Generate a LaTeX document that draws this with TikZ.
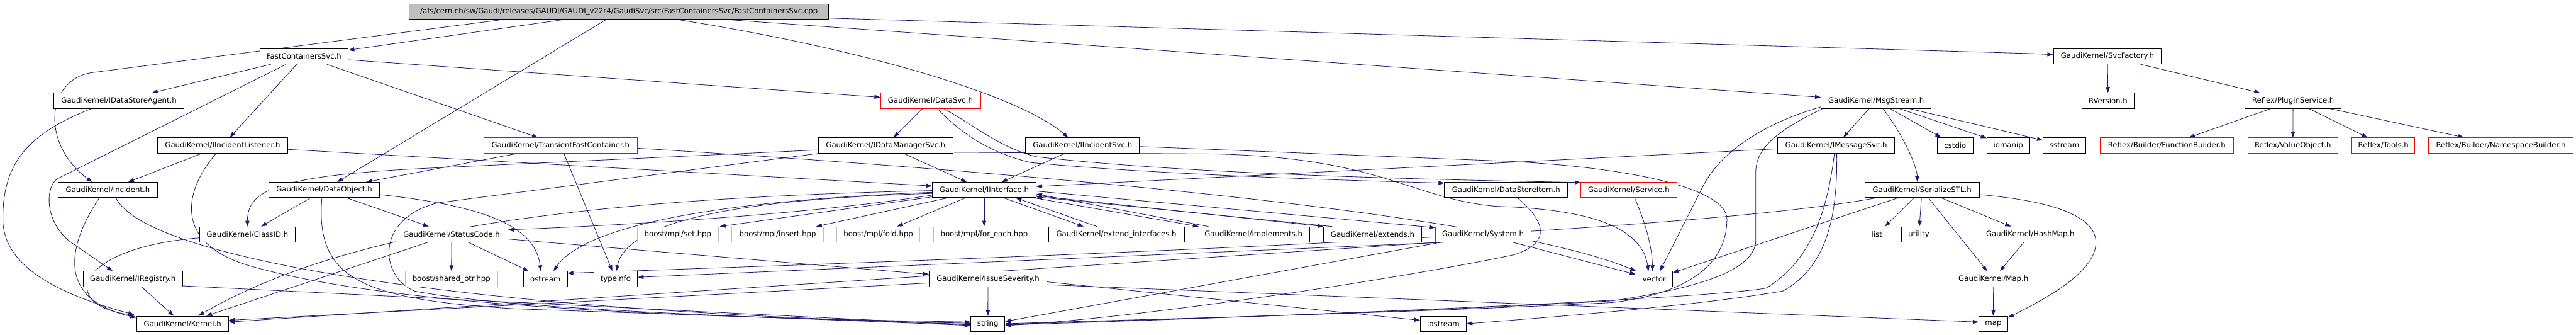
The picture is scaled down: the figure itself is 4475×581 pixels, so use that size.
\documentclass[tikz,border=0pt]{standalone}
\usepackage{fontspec}
\setmainfont{DejaVu Sans}
\usetikzlibrary{arrows.meta,calc}
\definecolor{edgec}{HTML}{191970}
\definecolor{boxgray}{HTML}{BFBFBF}
\pgfdeclarelayer{back}
\pgfdeclarelayer{bg}
\pgfsetlayers{back,bg,main}
\begin{document}
\begin{tikzpicture}[x=1pt,y=-1pt,
  nd/.style={draw=black,line width=1pt,fill=white,minimum height=26.5pt,inner sep=0pt,font=\fontsize{12.8}{15}\selectfont,text=black,anchor=center},
  rd/.style={nd,draw=red},
  gy/.style={nd,draw=boxgray},
  rt/.style={nd,fill=boxgray},
  dep/.style={draw=edgec,line width=0.9pt,-{Triangle[length=10pt,width=7pt]}}
]
\useasboundingbox (0,0) rectangle (4475,581);
\begin{pgfonlayer}{back}
\fill[white] (0,0) rectangle (4475,581);
\end{pgfonlayer}
% row 0
\node[rt,minimum width=728.5pt] (root) at (1075.3,20.4) {/afs/cern.ch/sw/Gaudi/releases/GAUDI/GAUDI\_v22r4/GaudiSvc/src/FastContainersSvc/FastContainersSvc.cpp};
% row 1
\node[nd,minimum width=153.5pt] (fcs) at (528.2,97.8) {FastContainersSvc.h};
\node[nd,minimum width=187.8pt] (svcf) at (3661,97.8) {GaudiKernel/SvcFactory.h};
% row 2
\node[nd,minimum width=226.7pt] (dsa) at (206.6,174.8) {GaudiKernel/IDataStoreAgent.h};
\node[rd,minimum width=173.6pt] (datasvc) at (1616.4,174.8) {GaudiKernel/DataSvc.h};
\node[nd,minimum width=191.3pt] (msg) at (3259.2,174.8) {GaudiKernel/MsgStream.h};
\node[nd,minimum width=90.2pt] (rver) at (3662,174.8) {RVersion.h};
\node[nd,minimum width=167.3pt] (plug) at (3983.5,174.8) {Reflex/PluginService.h};
% row 3
\node[nd,minimum width=226pt] (iil) at (386.7,252.2) {GaudiKernel/IIncidentListener.h};
\node[rd,minimum width=267.4pt] (tfc) at (973.8,252.2) {GaudiKernel/TransientFastContainer.h};
\node[nd,minimum width=234.4pt] (idm) at (1538.7,252.2) {GaudiKernel/IDataManagerSvc.h};
\node[nd,minimum width=197.5pt] (iis) at (1880.5,252.2) {GaudiKernel/IIncidentSvc.h};
\node[nd,minimum width=202.8pt] (ims) at (3189.8,252.2) {GaudiKernel/IMessageSvc.h};
\node[nd,minimum width=62.2pt] (cstdio) at (3396.5,252.2) {cstdio};
\node[nd,minimum width=74.1pt] (iomanip) at (3488.6,252.2) {iomanip};
\node[nd,minimum width=74.6pt] (sstream) at (3586.4,252.2) {sstream};
\node[rd,minimum width=231.9pt] (fb) at (3764,252.2) {Reflex/Builder/FunctionBuilder.h};
\node[rd,minimum width=156.7pt] (vo) at (3983.1,252.2) {Reflex/ValueObject.h};
\node[rd,minimum width=109.4pt] (tools) at (4140.4,252.2) {Reflex/Tools.h};
\node[rd,minimum width=251.2pt] (nsb) at (4344.4,252.2) {Reflex/Builder/NamespaceBuilder.h};
% row 4
\node[nd,minimum width=171.7pt] (inc) at (187.3,329.6) {GaudiKernel/Incident.h};
\node[nd,minimum width=191.8pt] (dobj) at (563.2,329.6) {GaudiKernel/DataObject.h};
\node[nd,minimum width=180.3pt] (iint) at (1709.7,329.6) {GaudiKernel/IInterface.h};
\node[nd,minimum width=213.8pt] (dsi) at (2616.3,329.6) {GaudiKernel/DataStoreItem.h};
\node[rd,minimum width=166.7pt] (svc) at (2829.6,329.6) {GaudiKernel/Service.h};
\node[nd,minimum width=198.5pt] (ser) at (3338.9,329.6) {GaudiKernel/SerializeSTL.h};
% row 5
\node[nd,minimum width=167pt] (clid) at (429.8,406.7) {GaudiKernel/ClassID.h};
\node[nd,minimum width=194.5pt] (sc) at (784.5,406.7) {GaudiKernel/StatusCode.h};
\node[gy,minimum width=141pt] (mset) at (1177.6,406.7) {boost/mpl/set.hpp};
\node[gy,minimum width=158.8pt] (mins) at (1351,406.7) {boost/mpl/insert.hpp};
\node[gy,minimum width=144.4pt] (mfold) at (1525.8,406.7) {boost/mpl/fold.hpp};
\node[gy,minimum width=176.5pt] (mfe) at (1709.7,406.7) {boost/mpl/for\_each.hpp};
\node[nd,minimum width=235.8pt] (ext) at (1939.3,406.7) {GaudiKernel/extend\_interfaces.h};
\node[nd,minimum width=195.8pt] (impl) at (2177.6,406.7) {GaudiKernel/implements.h};
\node[nd,minimum width=169.8pt] (extends) at (2384.4,406.7) {GaudiKernel/extends.h};
\node[rd,minimum width=166pt] (sys) at (2576.2,406.7) {GaudiKernel/System.h};
\node[nd,minimum width=41.6pt] (list) at (3260.4,406.7) {list};
\node[nd,minimum width=59.3pt] (utility) at (3333.3,406.7) {utility};
\node[rd,minimum width=178.7pt] (hmap) at (3527,406.7) {GaudiKernel/HashMap.h};
% row 6
\node[nd,minimum width=172.6pt] (ireg) at (230.8,484) {GaudiKernel/IRegistry.h};
\node[gy,minimum width=160.7pt] (bsp) at (784.2,484) {boost/shared\_ptr.hpp};
\node[nd,minimum width=76pt] (ostream) at (947.5,484) {ostream};
\node[nd,minimum width=76pt] (typeinfo) at (1069.5,484) {typeinfo};
\node[nd,minimum width=204.2pt] (iss) at (1716.4,484) {GaudiKernel/IssueSeverity.h};
\node[nd,minimum width=64.1pt] (vector) at (2873.7,484) {vector};
\node[rd,minimum width=147.3pt] (maph) at (3463,484) {GaudiKernel/Map.h};
% row 7
\node[nd,minimum width=159.8pt] (kernel) at (317.1,561.7) {GaudiKernel/Kernel.h};
\node[nd,minimum width=59.3pt] (string) at (1716.1,561.7) {string};
\node[nd,minimum width=79.9pt] (iostream) at (2507.3,561.7) {iostream};
\node[nd,minimum width=50.2pt] (map) at (3462.7,561.7) {map};

\begin{pgfonlayer}{bg}
% root
\draw[dep] (root) -- (fcs);
\draw[dep] ($(root.south)+(-203,0)$) -- (160,126) .. controls (80,137) and (70,250) .. ($(inc.north)+(-27,0)$);
\draw[dep] (root) -- (dobj);
\draw[dep] ($(root.south)+(103,0)$) .. controls (1500,85) and (1770,165) .. ($(iis.north)+(-25,0)$);
\draw[dep] ($(root.south)+(189,0)$) -- ($(msg.west)+(0,-6)$);
\draw[dep] ($(root.east)+(0,11)$) -- (3530,93) -- ($(svcf.west)+(0,-3)$);
% fcs
\draw[dep] (fcs) -- (dsa);
\draw[dep] ($(fcs.south)+(-31,0)$) -- (100,310) .. controls (80,322) and (75,380) .. (120,418) -- ($(ireg.north)+(-35,0)$);
\draw[dep] (fcs) -- (iil);
\draw[dep] (fcs) -- (tfc);
\draw[dep] ($(fcs.east)+(0,6)$) -- ($(datasvc.west)+(0,-6)$);
% dsa
\draw[dep] ($(dsa.south)+(-48,0)$) .. controls (40,235) and (5,290) .. (5,380) .. controls (5,470) and (120,515) .. ($(kernel.north west)+(-4,-2)$);
% iil
\draw[dep] (iil) -- (inc);
\draw[dep] ($(iil.south)+(-11,0)$) .. controls (320,330) and (300,420) .. (430,460) .. controls (700,540) and (1300,552) .. ($(string.west)+(0,-3)$);
\draw[dep] ($(iil.east)+(0,7)$) -- ($(iint.west)+(0,-7)$);
% inc
\draw[dep] ($(inc.south)+(-15,0)$) .. controls (115,430) and (100,520) .. ($(kernel.north west)+(0,3)$);
\draw[dep] ($(inc.south)+(14,0)$) .. controls (260,460) and (900,545) .. ($(string.west)+(0,-1)$);
% dobj
\draw[dep] (dobj) -- (clid);
\draw[dep] (dobj) -- (sc);
\draw[dep] ($(dobj.south)+(-4,0)$) .. controls (548,480) and (620,520) .. (900,536) -- ($(string.west)+(0,1)$);
\draw[dep] ($(dobj.east)+(0,8)$) .. controls (850,358) and (930,395) .. ($(ostream.north)+(-8,0)$);
% clid
\draw[dep] ($(clid.west)+(0,6)$) .. controls (130,430) and (100,530) .. ($(kernel.north west)+(-2,-1)$);
% ireg
\draw[dep] (ireg) -- (kernel);
\draw[dep] ($(ireg.east)+(0,12)$) -- ($(string.west)+(0,2)$);
% sc
\draw[dep] (sc) -- (bsp);
\draw[dep] (sc) -- (ostream);
\draw[dep] ($(sc.east)+(0,8)$) -- ($(iss.west)+(0,-8)$);
\draw[dep] (sc) -- (kernel);
% iss
\draw[dep] (iss) -- (string);
\draw[dep] ($(iss.west)+(0,7)$) -- ($(kernel.east)+(0,-6)$);
\draw[dep] ($(iss.east)+(0,5)$) -- ($(iostream.west)+(0,-6)$);
\draw[dep] ($(iss.east)+(0,10)$) -- ($(map.west)+(0,-3)$);
% tfc
\draw[dep] (tfc) -- (typeinfo);
\draw[dep] (tfc) -- (dobj);
\draw[dep] ($(tfc.east)+(0,5)$) .. controls (1800,300) and (2600,370) .. ($(vector.north west)+(1,0)$);
% datasvc
\draw[dep] (datasvc) -- (idm);
\draw[dep] ($(datasvc.south)+(12,0)$) .. controls (1670,232) and (1720,265) .. (1790,282) .. controls (2000,302) and (2300,312) .. ($(dsi.west)+(0,-12)$);
\draw[dep] ($(datasvc.south)+(23,0)$) .. controls (1700,222) and (1735,255) .. (1800,272) .. controls (2050,300) and (2400,310) .. ($(svc.west)+(0,-13)$);
% idm
\draw[dep] (idm) -- (iint);
\draw[dep] ($(idm.west)+(0,8)$) -- (740,292) .. controls (480,305) and (430,330) .. (clid.north);
\draw[dep] ($(idm.south west)+(3,0)$) -- (760,352) .. controls (650,380) and (660,480) .. (720,505) .. controls (900,540) and (1400,552) .. ($(string.west)+(0,3)$);
\draw[dep] ($(idm.east)+(0,12)$) -- (2100,267) .. controls (2400,272) and (2450,345) .. (2600,358) .. controls (2720,362) and (2850,380) .. ($(vector.north)+(-10,0)$);
% iis
\draw[dep] (iis) -- (iint);
\draw[dep] ($(iis.east)+(0,2)$) -- (2623,280) .. controls (2850,292) and (3000,330) .. (3000,380) .. controls (3000,460) and (2930,510) .. (2800,525) .. controls (2400,545) and (1900,556) .. (string.east);
% msg
\draw[dep] (msg) -- (ims);
\draw[dep] ($(msg.south)+(12,0)$) .. controls (3310,240) and (3330,290) .. ($(ser.north)+(-8,0)$);
\draw[dep] (msg) -- (cstdio);
\draw[dep] (msg) -- (iomanip);
\draw[dep] (msg) -- (sstream);
\draw[dep] ($(msg.south west)+(0,-3)$) .. controls (3060,215) and (2990,265) .. (2960,320) -- ($(vector.north)+(10,0)$);
\draw[dep] ($(msg.south west)+(3,0)$) .. controls (3080,230) and (3050,260) .. (3050,300) -- (3050,420) .. controls (3045,470) and (2950,500) .. (2800,522) .. controls (2400,545) and (1900,557) .. ($(string.east)+(0,1)$);
% ims
\draw[dep] ($(ims.west)+(0,6)$) -- ($(iint.east)+(0,-6)$);
\draw[dep] ($(ims.south)+(-3,0)$) .. controls (3175,360) and (3150,450) .. (3068,500) .. controls (2950,520) and (2200,550) .. ($(string.east)+(0,2)$);
\draw[dep] ($(ims.south)+(1,0)$) .. controls (3192,360) and (3180,460) .. (3097,505) .. controls (2950,530) and (2700,550) .. (iostream.east);
% ser
\draw[dep] (ser) -- (list);
\draw[dep] (ser) -- (utility);
\draw[dep] (ser) -- (hmap);
\draw[dep] (ser) -- (maph);
\draw[dep] ($(ser.south)+(-42,0)$) -- ($(vector.east)+(0,-11)$);
\draw[dep] ($(ser.south west)+(20,0)$) .. controls (2900,410) and (1600,452) .. ($(ostream.east)+(0,-10)$);
\draw[dep] ($(ser.east)+(0,8)$) .. controls (3580,350) and (3650,380) .. (3640,430) .. controls (3630,480) and (3540,525) .. ($(map.north east)+(0,3)$);
% hmap, maph
\draw[dep] (hmap) -- (maph);
\draw[dep] (maph) -- (map);
% svcf, plug
\draw[dep] (svcf) -- (rver);
\draw[dep] (svcf) -- (plug);
\draw[dep] (plug) -- (fb);
\draw[dep] (plug) -- (vo);
\draw[dep] (plug) -- (tools);
\draw[dep] (plug) -- (nsb);
% iint
\draw[dep] (iint) -- (mfe);
\draw[dep] (iint) -- (mfold);
\draw[dep] ($(iint.south west)+(27,0)$) -- ($(mins.north east)+(-13,0)$);
\draw[dep] ($(iint.west)+(0,12)$) -- ($(mset.north east)+(2,0)$);
\draw[dep] ($(iint.west)+(0,9)$) .. controls (1400,372) and (1100,390) .. ($(sc.east)+(0,-8)$);
\draw[dep] ($(iint.west)+(0,4)$) .. controls (1200,350) and (1010,400) .. ($(ostream.north)+(14,0)$);
\draw[dep] ($(iint.west)+(0,6)$) .. controls (1300,345) and (1090,380) .. ($(typeinfo.north)+(1,0)$);
\draw[dep] ($(iint.west)+(0,1)$) .. controls (1000,345) and (600,400) .. ($(kernel.north east)+(-53,0)$);
\draw[dep] ($(iint.south)+(34,0)$) -- ($(ext.north)+(-57,0)$);
\draw[dep] ($(ext.north)+(-34,0)$) -- ($(iint.south)+(55,0)$);
\draw[dep] ($(iint.south east)+(-4,0)$) -- ($(impl.north west)+(3,0)$);
\draw[dep] ($(impl.north west)+(20,0)$) -- ($(iint.east)+(0,7)$);
\draw[dep] ($(iint.east)+(0,10)$) -- (extends.north west);
\draw[dep] ($(extends.north west)+(15,0)$) -- ($(iint.east)+(0,12)$);
\draw[dep] ($(iint.east)+(0,2)$) -- ($(sys.north west)+(0,2)$);
% sys
\draw[dep] ($(sys.south)+(52,0)$) -- ($(vector.west)+(0,-8)$);
\draw[dep] ($(sys.south west)+(10,0)$) -- ($(string.east)+(0,-4)$);
\draw[dep] ($(sys.south west)+(5,0)$) -- ($(kernel.east)+(0,-3)$);
\draw[dep] ($(sys.south west)+(15,0)$) -- ($(typeinfo.east)+(0,-3)$);
% dsi
\draw[dep] ($(dsi.south)+(20,0)$) .. controls (2680,380) and (2700,420) .. (2630,442) .. controls (2450,480) and (2000,550) .. ($(string.east)+(0,3)$);
% svc
\draw[dep] ($(svc.south)+(10,0)$) .. controls (2860,390) and (2870,430) .. ($(vector.north)+(-3,0)$);
\end{pgfonlayer}
\end{tikzpicture}
\end{document}
